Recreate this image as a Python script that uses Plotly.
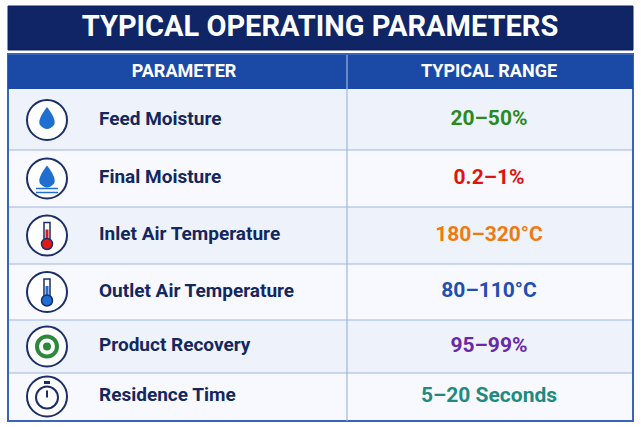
import plotly.graph_objects as go

title = "TYPICAL OPERATING PARAMETERS"
headers = ["PARAMETER", "TYPICAL RANGE"]
parameters = ["Feed Moisture", "Final Moisture", "Inlet Air Temperature",
              "Outlet Air Temperature", "Product Recovery", "Residence Time"]
ranges = ["20–50%", "0.2–1%", "180–320°C", "80–110°C", "95–99%", "5–20 Seconds"]
range_colors = ["#2a8a1f", "#e0140f", "#f07a10", "#1f4fb0", "#6a2aa8", "#1f8a80"]
icon_colors = ["#1f6fd0", "#1f6fd0", "#e01818", "#1f6fd0", "#2a8a3a", "#1a2e6a"]
row_top = [90, 150, 207, 264, 320, 373]
row_bot = [150, 207, 264, 320, 373, 420]

W, H = 641, 427
fig = go.Figure()
shapes = []
# outer table frame
shapes.append(dict(type="rect", x0=8, x1=633, y0=54, y1=421, line=dict(color="#3a64b8", width=2),
                   fillcolor="#f4f7fd", layer="below"))
# title banner
shapes.append(dict(type="rect", x0=8, x1=633, y0=6, y1=50, line=dict(color="#0c1f5c", width=1),
                   fillcolor="#0f2566", layer="below"))
# header
shapes.append(dict(type="rect", x0=8, x1=633, y0=55, y1=89, line=dict(width=0),
                   fillcolor="#1a4aa6", layer="below"))
for i, (t, b) in enumerate(zip(row_top, row_bot)):
    shapes.append(dict(type="rect", x0=9, x1=632, y0=t, y1=b, line=dict(width=0),
                       fillcolor="#eef3fb" if i % 2 == 0 else "#f7f9fe", layer="below"))
    if i > 0:
        shapes.append(dict(type="line", x0=9, x1=632, y0=t, y1=t, line=dict(color="#9fb5e0", width=1.2)))
    cy = (t + b) / 2
    shapes.append(dict(type="circle", x0=27, x1=67, y0=cy - 20, y1=cy + 20,
                       line=dict(color="#1a2e6a", width=2), fillcolor="white"))
    # simple icon glyph
    c = icon_colors[i]
    if i in (2, 3):
        shapes.append(dict(type="rect", x0=44, x1=50, y0=cy - 13, y1=cy + 6,
                           line=dict(color="#1a2e6a", width=1.5), fillcolor="white"))
        shapes.append(dict(type="rect", x0=45.5, x1=48.5, y0=cy - 6, y1=cy + 6,
                           line=dict(width=0), fillcolor=c))
        shapes.append(dict(type="circle", x0=41.5, x1=52.5, y0=cy + 3, y1=cy + 14,
                           line=dict(color="#1a2e6a", width=1.5), fillcolor=c))
    elif i == 4:
        for r, fc in [(12, "#2a8a3a"), (8, "white"), (4, "#2a8a3a")]:
            shapes.append(dict(type="circle", x0=47 - r, x1=47 + r, y0=cy - r, y1=cy + r,
                               line=dict(width=0), fillcolor=fc))
    elif i == 5:
        shapes.append(dict(type="circle", x0=36, x1=58, y0=cy - 10, y1=cy + 12,
                           line=dict(color=c, width=2), fillcolor="white"))
        shapes.append(dict(type="line", x0=47, x1=47, y0=cy + 1, y1=cy - 6, line=dict(color=c, width=2)))
        shapes.append(dict(type="line", x0=44, x1=50, y0=cy - 14, y1=cy - 14, line=dict(color=c, width=3)))
    else:
        shapes.append(dict(type="path", path=f"M 47 {cy-13} Q 37 {cy} 40 {cy+5} Q 47 {cy+13} 54 {cy+5} Q 57 {cy} 47 {cy-13} Z",
                           line=dict(width=0), fillcolor=c))
        if i == 1:
            for dy in (10, 14):
                shapes.append(dict(type="line", x0=36, x1=58, y0=cy + dy, y1=cy + dy, line=dict(color=c, width=1.5)))
# column divider
shapes.append(dict(type="line", x0=347, x1=347, y0=55, y1=421, line=dict(color="#9fb5e0", width=1.2)))

ycent = [(t + b) / 2 for t, b in zip(row_top, row_bot)]
fig.add_trace(go.Scatter(x=[99] * len(parameters), y=ycent, text=parameters, mode="text",
                         textposition="middle right",
                         textfont=dict(family="Roboto", size=19, color="#14275e", weight="bold"),
                         hoverinfo="skip"))
fig.add_trace(go.Scatter(x=[489] * len(ranges), y=ycent, text=ranges, mode="text",
                         textposition="middle center",
                         textfont=dict(family="Roboto", size=21, color=range_colors, weight="bold"),
                         hoverinfo="skip"))
fig.add_trace(go.Scatter(x=[184, 489], y=[72, 72], text=headers, mode="text",
                         textfont=dict(family="Roboto", size=18, color="white", weight="bold"),
                         hoverinfo="skip"))
fig.add_trace(go.Scatter(x=[320], y=[29], text=[title], mode="text",
                         textfont=dict(family="Roboto", size=29, color="white", weight="bold"),
                         hoverinfo="skip"))

fig.update_layout(width=W, height=H, margin=dict(l=0, r=0, t=0, b=0), showlegend=False,
                  paper_bgcolor="white", plot_bgcolor="white", shapes=shapes,
                  xaxis=dict(range=[0, W], visible=False, fixedrange=True),
                  yaxis=dict(range=[H, 0], visible=False, fixedrange=True))
fig.write_html("out.html", config={"displayModeBar": False},
               post_script="document.body.style.margin='0';document.body.style.overflow='hidden';")
